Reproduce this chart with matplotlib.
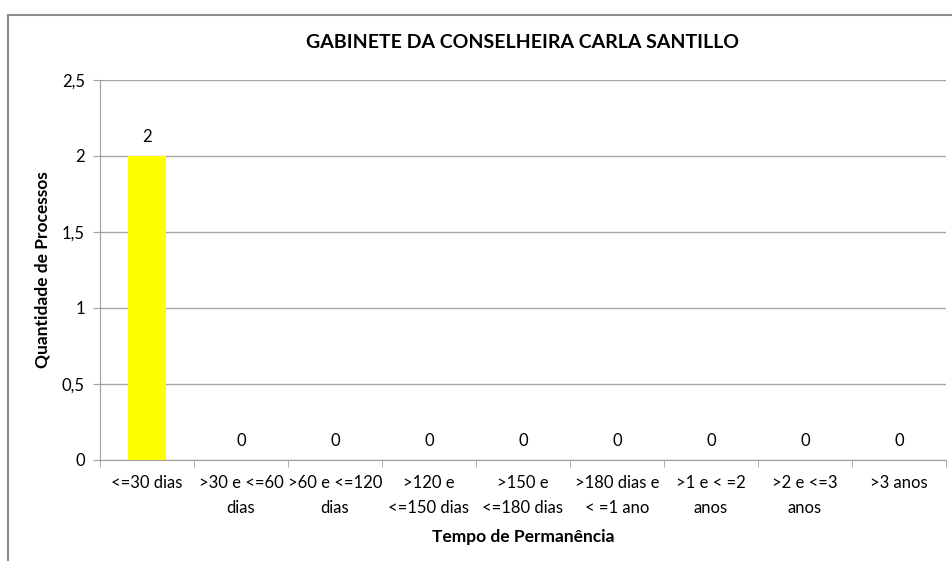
import matplotlib
matplotlib.use('Agg')
import matplotlib.pyplot as plt
from matplotlib.patches import Rectangle

categorias = ['<=30 dias', '>30 e <=60\ndias', '>60 e <=120\ndias', '>120 e\n<=150 dias',
              '>150 e\n<=180 dias', '>180 dias e\n< =1 ano', '>1 e < =2\nanos', '>2 e <=3\nanos',
              '>3 anos']
processos = [2, 0, 0, 0, 0, 0, 0, 0, 0]
y_ticks = [0, 0.5, 1, 1.5, 2, 2.5]
y_tick_labels = ['0', '0,5', '1', '1,5', '2', '2,5']

plt.rcParams['font.family'] = ['Lato', 'DejaVu Sans']

fig = plt.figure(figsize=(9.52, 5.61), dpi=100)
fig.patches.append(Rectangle((8 / 952, -0.1), 1.2, 1 - 15 / 561 + 0.1, transform=fig.transFigure,
                             fill=False, edgecolor='#8c8c8c', linewidth=1.5))
ax = fig.add_axes([100 / 952, 1 - 460 / 561, 846 / 952, 380 / 561])

x = list(range(len(categorias)))
ax.bar(x, processos, width=0.4, color='#ffff00', zorder=3)
for xi, v in zip(x, processos):
    ax.text(xi, v + 0.07, str(v), ha='center', va='bottom', fontsize=12)

ax.set_xlim(-0.5, len(categorias) - 0.5)
ax.set_ylim(0, 2.5)
ax.set_yticks(y_ticks)
ax.set_yticklabels(y_tick_labels, fontsize=12)
ax.set_xticks(x)
ax.set_xticklabels(categorias, fontsize=12, linespacing=1.7)
ax.tick_params(axis='x', length=0, pad=11)
ax.tick_params(axis='y', length=5, color='#a0a0a0', pad=6)
# marcas entre categorias
ax.set_xticks([i - 0.5 for i in range(len(categorias) + 1)], minor=True)
ax.tick_params(axis='x', which='minor', length=5, color='#a0a0a0')

ax.grid(axis='y', color='#a6a6a6', linewidth=1, zorder=0)
for s in ['top', 'right']:
    ax.spines[s].set_visible(False)
ax.spines['left'].set_color('#a0a0a0')
ax.spines['bottom'].set_color('#a0a0a0')

ax.set_title('GABINETE DA CONSELHEIRA CARLA SANTILLO', fontsize=14, fontweight='bold', pad=23)
ax.set_ylabel('Quantidade de Processos', fontsize=12.5, fontweight='bold', labelpad=8)
ax.set_xlabel('Tempo de Permanência', fontsize=12.5, fontweight='bold', labelpad=9)

fig.savefig('out.png', dpi=100)
